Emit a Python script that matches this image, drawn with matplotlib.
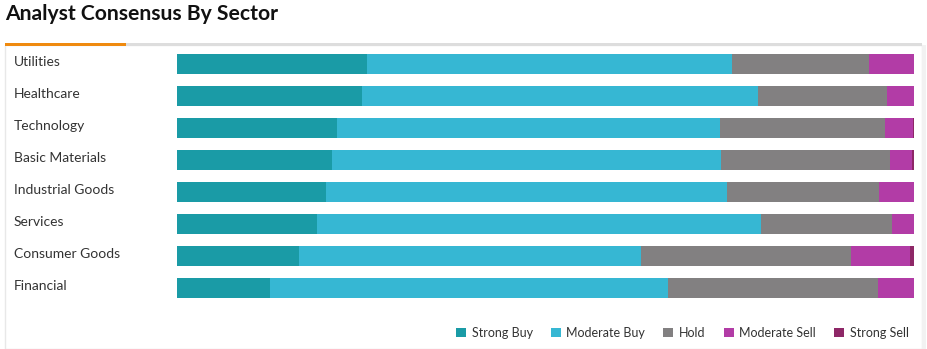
import matplotlib.pyplot as plt
import matplotlib.transforms as mtransforms
from matplotlib.patches import Rectangle
import numpy as np

plt.rcParams['font.family'] = ['Lato', 'DejaVu Sans']

sectors = ['Utilities', 'Healthcare', 'Technology', 'Basic Materials',
           'Industrial Goods', 'Services', 'Consumer Goods', 'Financial']
strong_buy = [25.8, 25.1, 21.7, 21.0, 20.2, 19.0, 16.6, 12.6]
moderate_buy = [49.5, 53.7, 52.0, 52.8, 54.4, 60.2, 46.4, 54.0]
hold = [18.6, 17.6, 22.3, 22.9, 20.6, 17.8, 28.5, 28.5]
moderate_sell = [6.1, 3.6, 3.8, 3.0, 4.8, 3.0, 8.0, 4.9]
strong_sell = [0.0, 0.0, 0.2, 0.3, 0.0, 0.0, 0.5, 0.0]

series = ['Strong Buy', 'Moderate Buy', 'Hold', 'Moderate Sell', 'Strong Sell']
colors = ['#1a9ba6', '#36b7d3', '#828081', '#b23ca6', '#8e2767']

W, H = 927, 349
fig = plt.figure(figsize=(W / 100, H / 100), dpi=100)

# card background and tab strip (behind the axes)
def card_rect(x, y, w, h, **kw):
    fig.patches.append(Rectangle((x / W, 1 - (y + h) / H), w / W, h / H,
                                 transform=fig.transFigure, zorder=-5, **kw))

card_rect(5, 45, 917, 304, facecolor='white', edgecolor='#e8e8e8', lw=1)
card_rect(922, 45, 4, 304, facecolor='#f2f2f2', edgecolor='none')
card_rect(5, 43, 917, 3, facecolor='#dddddd', edgecolor='none')
card_rect(5, 43, 121, 3, facecolor='#ef8a0f', edgecolor='none')

fig.text(5 / W, 1 - 14 / H, 'Analyst Consensus By Sector', fontsize=15.2,
         fontweight='bold', color='#111111', va='center', ha='left')

ax = fig.add_axes([177 / W, 1 - 304 / H, 737 / W, 256 / H])
ax.patch.set_visible(False)
y = np.arange(len(sectors))
left = np.zeros(len(sectors))
data = [strong_buy, moderate_buy, hold, moderate_sell, strong_sell]
handles = []
for vals, c, name in zip(data, colors, series):
    b = ax.barh(y, vals, left=left, height=0.625, color=c, label=name)
    handles.append(b)
    left = left + np.array(vals)

ax.set_xlim(0, 100)
ax.set_ylim(len(sectors) - 0.5, -0.5)
ax.axis('off')

trans = mtransforms.blended_transform_factory(fig.transFigure, ax.transData)
for i, s in enumerate(sectors):
    ax.text(14 / W, i - 0.07, s, transform=trans, ha='left', va='center',
            fontsize=10, color='#333333')

fig.legend(handles=handles, labels=series, loc='center right',
           bbox_to_anchor=(920 / W, 1 - 333 / H), ncol=5, frameon=False,
           fontsize=9, handlelength=0.8, handleheight=0.8, handletextpad=0.45,
           columnspacing=1.45, labelcolor='#333333')

fig.savefig('out.png', dpi=100)
